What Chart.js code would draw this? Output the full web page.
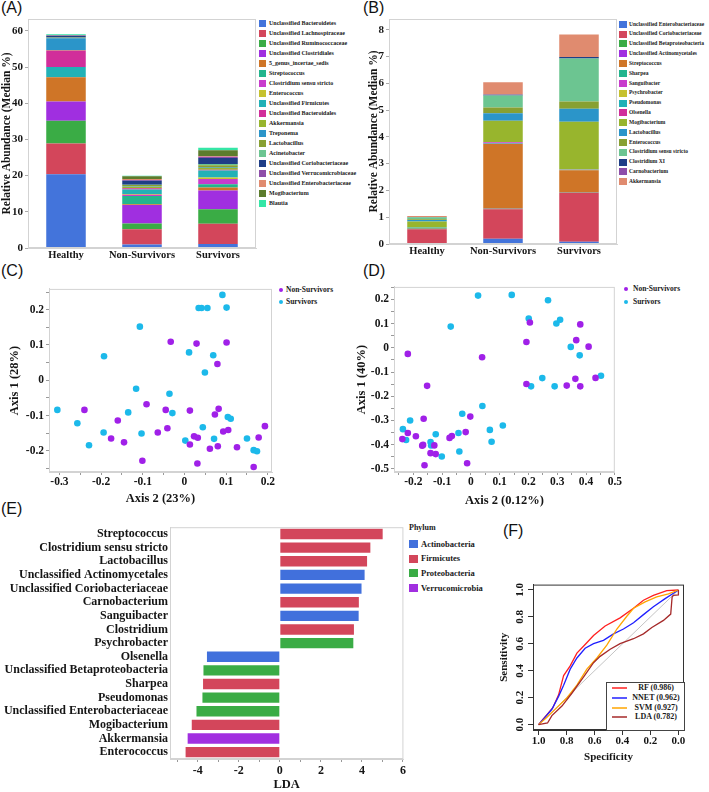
<!DOCTYPE html>
<html>
<head>
<meta charset="utf-8">
<title>Gut microbiota panels</title>
<script src="https://cdn.jsdelivr.net/npm/chart.js"></script>
<style>
  body { margin: 0; background: #fff; width: 709px; height: 792px; position: relative; overflow: hidden;
         font-family: "Liberation Serif", "Times New Roman", serif; color: #1a1a1a; }
  canvas { position: absolute; }
  .tag { position: absolute; font: 16px/16px "Liberation Sans", Arial, sans-serif; color: #111; }
  .leg { position: absolute; display: flex; align-items: center; font-weight: bold; white-space: nowrap; line-height: 1; }
  .sw { display: inline-block; flex: none; }
</style>
</head>
<body>
<div class="tag" style="left:1px;top:0px">(A)</div>
<div class="tag" style="left:363px;top:0px">(B)</div>
<div class="tag" style="left:1px;top:263px">(C)</div>
<div class="tag" style="left:363px;top:263px">(D)</div>
<div class="tag" style="left:1px;top:501px">(E)</div>
<div class="tag" style="left:503px;top:523px">(F)</div>

<script>
// ---- data ----
var groups = ['Healthy', 'Non-Survivors', 'Survivors'];

// (A) top genera, segment heights in legend order (median %)
var generaA = ['Unclassified Bacteroidetes', 'Unclassified Lachnospiraceae', 'Unclassified Ruminococcaceae',
  'Unclassified Clostridiales', '5_genus_incertae_sedis', 'Streptococcus', 'Clostridium sensu stricto',
  'Enterococcus', 'Unclassified Firmicutes', 'Unclassified Bacteroidales', 'Akkermansia', 'Treponema',
  'Lactobacillus', 'Acinetobacter', 'Unclassified Coriobacteriaceae', 'Unclassified Verrucomicrobiaceae',
  'Unclassified Enterobacteriaceae', 'Mogibacterium', 'Blautia'];
var aHealthy      = [20.4, 8.5, 6.3, 5.3, 6.7, 0, 0, 0, 2.8, 4.6, 0.1, 3.3, 0.1, 0.1, 0.5, 0.05, 0.05, 0.1, 0.2];
var aNonSurvivors = [1.0, 4.2, 1.6, 5.1, 0.2, 2.3, 0.3, 0.2, 1.3, 0.3, 0.4, 0.2, 0.3, 0.1, 1.1, 0.2, 0.3, 0.7, 0.2];
var aSurvivors    = [1.1, 5.6, 4.0, 5.2, 0.8, 0.9, 1.5, 0.4, 1.9, 0.2, 0.6, 0.2, 0.5, 0.3, 1.7, 0.3, 0.2, 1.6, 0.7];

// (B) discriminating genera
var generaB = ['Unclassified Enterobacteriaceae', 'Unclassified Coriobacteriaceae', 'Unclassified Betaproteobacteria',
  'Unclassified Actinomycetales', 'Streptococcus', 'Sharpea', 'Sanguibacter', 'Psychrobacter', 'Pseudomonas',
  'Olsenella', 'Mogibacterium', 'Lactobacillus', 'Enterococcus', 'Clostridium sensu stricto', 'Clostridium XI',
  'Carnobacterium', 'Akkermansia'];
var bHealthy      = [0, 0.55, 0.03, 0.01, 0.01, 0.01, 0, 0, 0.01, 0, 0.22, 0.06, 0.02, 0.08, 0.01, 0, 0.04];
var bNonSurvivors = [0.2, 1.1, 0.02, 0.01, 2.4, 0.02, 0.05, 0, 0, 0, 0.8, 0.28, 0.22, 0.44, 0.03, 0.01, 0.46];
var bSurvivors    = [0.08, 1.82, 0.01, 0.01, 0.83, 0.02, 0.01, 0.01, 0, 0, 1.77, 0.49, 0.27, 1.61, 0.05, 0, 0.84];

// (C) PCoA, Axis 2 (x) / Axis 1 (y)
var cNonX = [-0.240, -0.160, -0.176, -0.145, -0.101, -0.091, -0.064, -0.045, -0.041, -0.033, 0.013, 0.013, 0.023, 0.032,
  0.029, 0.031, 0.061, 0.073, 0.079, 0.080, 0.082, 0.093, 0.101, 0.105, 0.126, 0.166, 0.178, 0.193];
var cNonY = [-0.084, -0.114, -0.165, -0.176, -0.228, -0.068, -0.148, -0.084, -0.136, 0.109, -0.086, -0.182, -0.159, -0.163,
  0.104, -0.236, -0.194, -0.097, 0.046, -0.187, -0.081, -0.145, 0.107, -0.141, -0.190, -0.246, -0.162, -0.130];
var cSurX = [-0.305, -0.257, -0.229, -0.193, -0.194, -0.135, -0.116, -0.107, -0.103, -0.036, -0.029, 0.002, 0.011, 0.034,
  0.041, 0.055, 0.044, 0.049, 0.069, 0.071, 0.091, 0.101, 0.104, 0.111, 0.150, 0.166, 0.174];
var cSurY = [-0.084, -0.122, -0.184, 0.068, -0.148, -0.091, -0.024, 0.152, -0.151, -0.038, -0.093, -0.171, 0.079, 0.205,
  0.205, 0.205, -0.133, 0.022, 0.071, -0.166, 0.242, 0.206, -0.104, -0.109, -0.165, -0.198, -0.201];

// (D) PCoA, Axis 2 (x) / Axis 1 (y)
var dNonX = [-0.219, -0.238, -0.219, -0.191, -0.169, -0.166, -0.164, -0.161, -0.152, -0.140, -0.127, -0.122, -0.074, -0.066,
  -0.018, -0.013, -0.002, 0.039, 0.193, 0.193, 0.205, 0.333, 0.363, 0.366, 0.380, 0.380, 0.409, 0.433];
var dNonY = [-0.025, -0.377, -0.352, -0.365, -0.404, -0.401, -0.293, -0.485, -0.157, -0.435, -0.403, -0.439, -0.372, -0.364,
  -0.348, -0.477, -0.284, -0.039, 0.024, -0.149, 0.105, -0.156, -0.128, 0.032, 0.097, -0.159, 0.005, -0.124];
var dSurX = [-0.236, -0.225, -0.211, -0.140, -0.138, -0.122, -0.101, -0.070, -0.043, -0.040, -0.030, 0.025, 0.040, 0.066,
  0.072, 0.111, 0.142, 0.201, 0.209, 0.248, 0.268, 0.291, 0.297, 0.310, 0.347, 0.378, 0.452];
var dSurY = [-0.336, -0.381, -0.300, -0.389, -0.403, -0.357, -0.449, 0.088, -0.352, -0.428, -0.272, 0.216, -0.240, -0.339,
  -0.388, -0.321, 0.219, 0.121, -0.159, -0.125, 0.197, -0.159, 0.101, 0.116, 0.004, -0.031, -0.115];

// (E) LEfSe
var ldaTaxa = ['Streptococcus', 'Clostridium sensu stricto', 'Lactobacillus', 'Unclassified Actinomycetales',
  'Unclassified Coriobacteriaceae', 'Carnobacterium', 'Sanguibacter', 'Clostridium', 'Psychrobacter', 'Olsenella',
  'Unclassified Betaproteobacteria', 'Sharpea', 'Pseudomonas', 'Unclassified Enterobacteriaceae', 'Mogibacterium',
  'Akkermansia', 'Enterococcus'];
var ldaScores = [5.01, 4.41, 4.25, 4.13, 3.98, 3.85, 3.84, 3.61, 3.58, -3.55, -3.72, -3.74, -3.77, -4.06, -4.29, -4.49, -4.59];
var ldaPhylum = ['Firmicutes', 'Firmicutes', 'Firmicutes', 'Actinobacteria', 'Actinobacteria', 'Firmicutes',
  'Actinobacteria', 'Firmicutes', 'Proteobacteria', 'Actinobacteria', 'Proteobacteria', 'Firmicutes',
  'Proteobacteria', 'Proteobacteria', 'Firmicutes', 'Verrucomicrobia', 'Firmicutes'];
var phyla = ['Actinobacteria', 'Firmicutes', 'Proteobacteria', 'Verrucomicrobia'];

// (F) ROC curves, specificity (x) / sensitivity (y)
var rfSpec   = [1, 0.976, 0.94, 0.898, 0.857, 0.821, 0.774, 0.726, 0.667, 0.607, 0.524, 0.417, 0.321, 0.25, 0.179, 0.083, 0];
var rfSens   = [0, 0.031, 0.074, 0.126, 0.221, 0.364, 0.436, 0.531, 0.595, 0.662, 0.733, 0.793, 0.864, 0.924, 0.96, 0.995, 1];
var nnetSpec = [1, 0.964, 0.905, 0.857, 0.821, 0.774, 0.726, 0.667, 0.607, 0.536, 0.464, 0.393, 0.321, 0.25, 0.179, 0.095, 0.024, 0];
var nnetSens = [0, 0.043, 0.114, 0.21, 0.293, 0.412, 0.495, 0.567, 0.602, 0.626, 0.674, 0.71, 0.757, 0.817, 0.876, 0.936, 0.983, 1];
var svmSpec  = [1, 0.94, 0.869, 0.798, 0.726, 0.655, 0.583, 0.512, 0.44, 0.369, 0.321, 0.238, 0.155, 0.071, 0];
var svmSens  = [0, 0.055, 0.126, 0.198, 0.293, 0.412, 0.495, 0.59, 0.71, 0.805, 0.864, 0.912, 0.948, 0.971, 1];
var rocLdaSpec = [1, 0.936, 0.905, 0.833, 0.762, 0.679, 0.607, 0.56, 0.488, 0.417, 0.321, 0.25, 0.19, 0.107, 0.055, 0.045, 0.036, 0, 0];
var rocLdaSens = [0, 0.012, 0.067, 0.138, 0.233, 0.352, 0.46, 0.507, 0.56, 0.602, 0.638, 0.674, 0.721, 0.774, 0.821, 0.948, 0.96, 0.964, 1];
var rocModels = ['RF (0.986)', 'NNET (0.962)', 'SVM (0.927)', 'LDA (0.782)'];

// ---- styling ----
var palette = ['#4374db', '#d3465b', '#3aac45', '#a02fe0', '#cf7527', '#23b58d', '#c83ccc', '#c6c12e', '#22b1b6',
  '#d12e9a', '#98b52d', '#2b95c9', '#88a032', '#6cc591', '#1f3e86', '#8e4ea9', '#e08b6f', '#5c7c2c', '#35e6a6'];
var phylumColors = ['#4170dc', '#d3465b', '#3aac45', '#a12fe0'];
var nonColor = '#a020e8', surColor = '#1cb9ea';
var rocColors = ['#ff2020', '#2020ff', '#ffa500', '#a52a2a'];
var boxGrey = '#d3d3d3';

Chart.defaults.font.family = '"Liberation Serif", "Times New Roman", serif';
Chart.defaults.font.weight = 'bold';
Chart.defaults.color = '#151515';
Chart.defaults.animation = false;
Chart.defaults.responsive = false;
Chart.defaults.plugins.legend.display = false;
Chart.defaults.plugins.tooltip.enabled = false;

function addCanvas(left, top, w, h) {
  var c = document.createElement('canvas');
  c.width = w; c.height = h;
  c.style.left = left + 'px'; c.style.top = top + 'px';
  document.body.appendChild(c);
  return c.getContext('2d');
}
function fixWidth(w) { return function (s) { s.width = w; }; }
function fixHeight(h) { return function (s) { s.height = h; }; }
function frame(color) {
  return {
    id: 'frame',
    afterDatasetsDraw: function (chart) {
      var a = chart.chartArea, ctx = chart.ctx;
      ctx.save();
      ctx.strokeStyle = color; ctx.lineWidth = 1;
      ctx.strokeRect(a.left + 0.5, a.top + 0.5, a.right - a.left - 1, a.bottom - a.top - 1);
      ctx.restore();
    }
  };
}
// label only every 0.1, minor ticks in between
function tenths(v) {
  var k = Math.round(v * 20);
  if (k % 2 !== 0) return '';
  return k === 0 ? '0' : (k / 20).toFixed(1);
}
function pts(xs, ys) { return xs.map(function (x, i) { return { x: x, y: ys[i] }; }); }

function el(html, css) {
  var d = document.createElement('div');
  d.className = 'leg';
  d.style.cssText += css;
  d.innerHTML = html;
  document.body.appendChild(d);
  return d;
}
function swatchLegend(names, colors, left, cy0, step, w, h, gap, font) {
  names.forEach(function (n, i) {
    el('<span class="sw" style="width:' + w + 'px;height:' + h + 'px;background:' + colors[i] + ';margin-right:' + gap + 'px"></span>' + n,
      'left:' + left + 'px;top:' + (cy0 + i * step - h / 2) + 'px;height:' + h + 'px;font-size:' + font + 'px');
  });
}
function dotLegend(names, colors, left, cys, gap, font) {
  names.forEach(function (n, i) {
    el('<span class="sw" style="width:4px;height:4px;border-radius:50%;background:' + colors[i] + ';margin-right:' + gap + 'px"></span>' + n,
      'left:' + left + 'px;top:' + (cys[i] - 4) + 'px;height:8px;font-size:' + font + 'px');
  });
}

function stackedOptions(yMax, yWidth, titlePad, padTop) {
  return {
    layout: { padding: { top: padTop, right: 2, left: 0, bottom: 0 } },
    scales: {
      x: { stacked: true, grid: { display: false, drawTicks: false }, border: { color: boxGrey },
        ticks: { font: { size: 10.5 }, padding: 1 }, afterFit: fixHeight(20) },
      y: { stacked: true, min: 0, max: yMax,
        grid: { drawOnChartArea: false, tickLength: 3, color: '#aaa' }, border: { color: boxGrey },
        ticks: { stepSize: yMax > 10 ? 10 : 1, includeBounds: false, font: { size: 11 }, padding: 2 },
        title: { display: true, text: 'Relative Abundance (Median %)', font: { size: 11.5 }, padding: { top: titlePad, bottom: 0 } },
        afterFit: fixWidth(yWidth) }
    }
  };
}

// ---- (A) ----
new Chart(addCanvas(0, 0, 258, 268), {
  type: 'bar',
  data: {
    labels: groups,
    datasets: generaA.map(function (g, i) {
      return { label: g, data: [aHealthy[i], aNonSurvivors[i], aSurvivors[i]], backgroundColor: palette[i],
        borderWidth: 0, categoryPercentage: 1, barPercentage: 0.52 };
    })
  },
  options: stackedOptions(63.3, 28, 0, 19),
  plugins: [frame(boxGrey)]
});
swatchLegend(generaA, palette, 259, 23.3, 10, 7, 7, 3, 6);

// ---- (B) ----
new Chart(addCanvas(350, 0, 269, 264), {
  type: 'bar',
  data: {
    labels: groups,
    datasets: generaB.map(function (g, i) {
      return { label: g, data: [bHealthy[i], bNonSurvivors[i], bSurvivors[i]], backgroundColor: palette[i],
        borderWidth: 0, categoryPercentage: 1, barPercentage: 0.52 };
    })
  },
  options: stackedOptions(8.4, 39, 17, 19),
  plugins: [frame(boxGrey)]
});
swatchLegend(generaB, palette, 619, 24.3, 9.84, 8, 7, 2, 5.5);

// ---- (C), (D) ----
function pcoa(ctx, nonPts, surPts, xr, yr, xTitle, yTitle, yWidth, yTitlePad, xHeight) {
  new Chart(ctx, {
    type: 'scatter',
    data: { datasets: [
      { data: nonPts, backgroundColor: nonColor, pointRadius: 3.3, borderWidth: 0 },
      { data: surPts, backgroundColor: surColor, pointRadius: 3.3, borderWidth: 0 }
    ] },
    options: {
      layout: { padding: { top: 3, right: 3, left: 0, bottom: 0 } },
      scales: {
        x: { min: xr[0], max: xr[1], grid: { drawOnChartArea: false, tickLength: 3, color: '#999' }, border: { color: boxGrey },
          ticks: { stepSize: 0.05, includeBounds: false, callback: tenths, autoSkip: false, maxRotation: 0, font: { size: 11.5 }, padding: 0 },
          title: { display: true, text: xTitle, font: { size: 12.5 }, padding: { top: 0, bottom: 0 } },
          afterFit: fixHeight(xHeight) },
        y: { min: yr[0], max: yr[1], grid: { drawOnChartArea: false, tickLength: 3, color: '#999' }, border: { color: boxGrey },
          ticks: { stepSize: 0.05, includeBounds: false, callback: tenths, autoSkip: false, font: { size: 11.5 }, padding: 2 },
          title: { display: true, text: yTitle, font: { size: 12.5 }, padding: { top: yTitlePad, bottom: 0 } },
          afterFit: fixWidth(yWidth) }
      }
    },
    plugins: [frame(boxGrey)]
  });
}
pcoa(addCanvas(0, 280, 276, 226), pts(cNonX, cNonY), pts(cSurX, cSurY), [-0.325, 0.21], [-0.26, 0.259],
  'Axis 2 (23%)', 'Axis 1 (28%)', 49, 7, 34);
dotLegend(['Non-Survivors', 'Survivors'], [nonColor, surColor], 279, [290, 302], 3, 7.5);

pcoa(addCanvas(350, 278, 272, 230), pts(dNonX, dNonY), pts(dSurX, dSurY), [-0.267, 0.5], [-0.513, 0.252],
  'Axis 2 (0.12%)', 'Axis 1 (40%)', 44, 4, 36);
dotLegend(['Non-Survivors', 'Surivors'], [nonColor, surColor], 624, [289, 302], 5, 7.5);

// ---- (E) ----
new Chart(addCanvas(0, 518, 408, 274), {
  type: 'bar',
  data: {
    labels: ldaTaxa,
    datasets: phyla.map(function (p, k) {
      return { label: p, backgroundColor: phylumColors[k], borderWidth: 0, barPercentage: 0.76, categoryPercentage: 1,
        data: ldaScores.map(function (v, i) { return ldaPhylum[i] === p ? v : null; }) };
    })
  },
  options: {
    indexAxis: 'y',
    layout: { padding: { top: 2, right: 2, left: 0, bottom: 0 } },
    scales: {
      x: { stacked: true, min: -5.35, max: 6.02, grid: { drawOnChartArea: false, tickLength: 3, color: '#999' }, border: { color: boxGrey },
        ticks: { stepSize: 1, includeBounds: false, autoSkip: false, maxRotation: 0, font: { size: 12 }, padding: 2,
          callback: function (v) { return v % 2 === 0 ? String(v) : ''; } },
        title: { display: true, text: 'LDA', font: { size: 12.5 }, padding: { top: 0, bottom: 0 } },
        afterFit: fixHeight(33) },
      y: { stacked: true, grid: { display: false, drawTicks: false }, border: { color: boxGrey },
        ticks: { font: { size: 12 }, padding: 2, autoSkip: false }, afterFit: fixWidth(170) }
    }
  },
  plugins: [frame(boxGrey)]
});
el('Phylum', 'left:409px;top:524px;font-size:8px');
swatchLegend(phyla, phylumColors, 409, 544, 14.7, 9, 8, 3, 8.5);

// ---- (F) ----
var rotatedYTicks = {
  id: 'rotY',
  afterDraw: function (chart) {
    var s = chart.scales.y, ctx = chart.ctx;
    ctx.save();
    ctx.fillStyle = '#151515';
    ctx.font = 'bold 11px "Liberation Serif", serif';
    ctx.textAlign = 'center'; ctx.textBaseline = 'middle';
    s.ticks.forEach(function (t) {
      ctx.save();
      ctx.translate(s.right - 13, s.getPixelForValue(t.value));
      ctx.rotate(-Math.PI / 2);
      ctx.fillText(t.value.toFixed(1), 0, 0);
      ctx.restore();
    });
    ctx.restore();
  }
};
function rocSet(xs, ys, color, w) {
  return { data: pts(xs, ys), borderColor: color, borderWidth: w, showLine: true, pointRadius: 0, tension: 0 };
}
new Chart(addCanvas(496, 575, 191, 190), {
  type: 'scatter',
  data: { datasets: [
    rocSet(rocLdaSpec, rocLdaSens, rocColors[3], 1.3),
    rocSet(svmSpec, svmSens, rocColors[2], 1.3),
    rocSet(nnetSpec, nnetSens, rocColors[1], 1.3),
    rocSet(rfSpec, rfSens, rocColors[0], 1.3),
    rocSet([1, 0], [0, 1], '#c4c4c4', 1)
  ] },
  options: {
    layout: { padding: { top: 4, right: 3, left: 0, bottom: 0 } },
    scales: {
      x: { reverse: true, min: -0.04, max: 1.04, grid: { drawOnChartArea: false, tickLength: 5, color: '#333' }, border: { color: '#333' },
        ticks: { stepSize: 0.2, includeBounds: false, autoSkip: false, maxRotation: 0, font: { size: 11 }, padding: 0,
          callback: function (v) { return v.toFixed(1); } },
        title: { display: true, text: 'Specificity', font: { size: 11 }, padding: { top: 0, bottom: 1 } },
        afterFit: fixHeight(35) },
      y: { min: -0.04, max: 1.04, grid: { drawOnChartArea: false, tickLength: 5, color: '#333' }, border: { color: '#333' },
        ticks: { stepSize: 0.2, includeBounds: false, autoSkip: false, color: 'rgba(0,0,0,0)', font: { size: 11 } },
        title: { display: true, text: 'Sensitivity', font: { size: 11 }, padding: { top: 2, bottom: 0 } },
        afterFit: fixWidth(37) }
    }
  },
  plugins: [frame('#333'), rotatedYTicks]
});
var rocBox = document.createElement('div');
rocBox.style.cssText = 'position:absolute;left:606px;top:682px;width:77px;height:47px;border:1px solid #444;background:#fff';
document.body.appendChild(rocBox);
rocModels.forEach(function (m, i) {
  var cy = 688.3 + i * 9.6;
  el('<span class="sw" style="width:15px;height:2px;opacity:0.75;background:' + rocColors[i] + '"></span>' +
     '<span style="display:inline-block;width:52px;text-align:center;margin-left:3px">' + m + '</span>',
     'left:612px;top:' + (cy - 4) + 'px;height:8px;font-size:8px');
});
</script>
</body>
</html>
